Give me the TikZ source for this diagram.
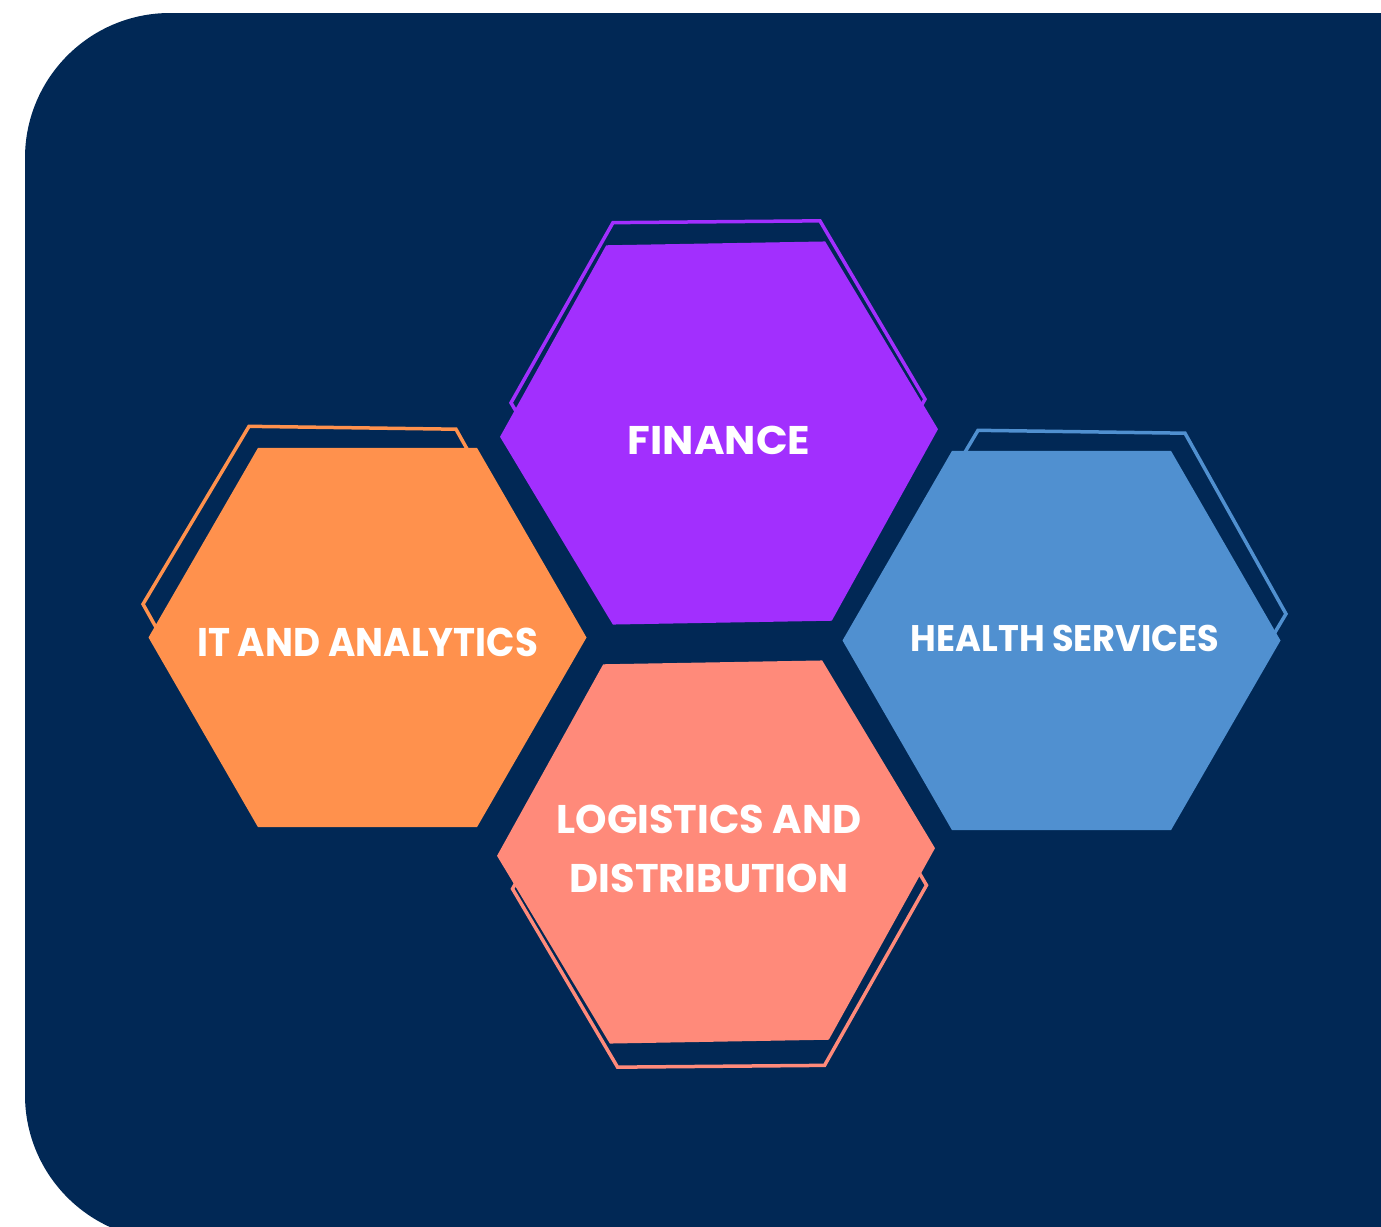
\documentclass[tikz,border=0pt]{standalone}
\usepackage{fontspec}
\setmainfont{Poppins}
\usetikzlibrary{shapes.geometric}
\definecolor{navy}{HTML}{012855}
\definecolor{cpurple}{HTML}{A22FFE}
\definecolor{corange}{HTML}{FF914D}
\definecolor{cblue}{HTML}{5090D0}
\definecolor{csalmon}{HTML}{FF8A7A}
\begin{document}
\begin{tikzpicture}[x=1pt,y=-1pt,
  hexfill/.style={regular polygon, regular polygon sides=6, minimum size=438pt, inner sep=0pt, outer sep=0pt, draw=none},
  hexline/.style={regular polygon, regular polygon sides=6, minimum size=414pt, inner sep=0pt, outer sep=0pt, line width=3.5pt, fill=none},
  lbl/.style={text=white, font=\fontsize{40}{59}\selectfont\bfseries, align=center, inner sep=0pt}]
\useasboundingbox (0,0) rectangle (1381,1226);
\clip (0,0) rectangle (1381,1226);
\fill[white] (0,0) rectangle (1381,1226);
\fill[navy, rounded corners=145pt] (25,13) rectangle (1560,1240);
% outlines
\node[hexline, draw=cpurple, rotate=0.5] (financeOut) at (718,401) {};
\node[hexline, draw=corange, rotate=-0.8] (itOut) at (350,607) {};
\node[hexline, draw=cblue, rotate=-0.8] (healthOut) at (1079,611) {};
\node[hexline, draw=csalmon, rotate=0.5] (logOut) at (719.5,887) {};
% fills
\node[hexfill, fill=cpurple, rotate=1] (finance) at (719,433) {};
\node[hexfill, fill=corange] (it) at (367.5,637.5) {};
\node[hexfill, fill=cblue] (health) at (1061.5,640.5) {};
\node[hexfill, fill=csalmon, rotate=1] (logistics) at (716,852) {};
% labels
\node[lbl] (financeTxt) at (719,440.5) {\scalebox{1.04}[1]{FINANCE}};
\node[lbl] (itTxt) at (367.5,642.5) {\scalebox{0.93}[1]{IT AND ANALYTICS}};
\node[lbl, font=\fontsize{37}{59}\selectfont\bfseries] (healthTxt) at (1065,638) {\scalebox{0.95}[1]{HEALTH SERVICES}};
\node[lbl] (logTxt) at (709,849) {LOGISTICS AND\\DISTRIBUTION};
\end{tikzpicture}
\end{document}
